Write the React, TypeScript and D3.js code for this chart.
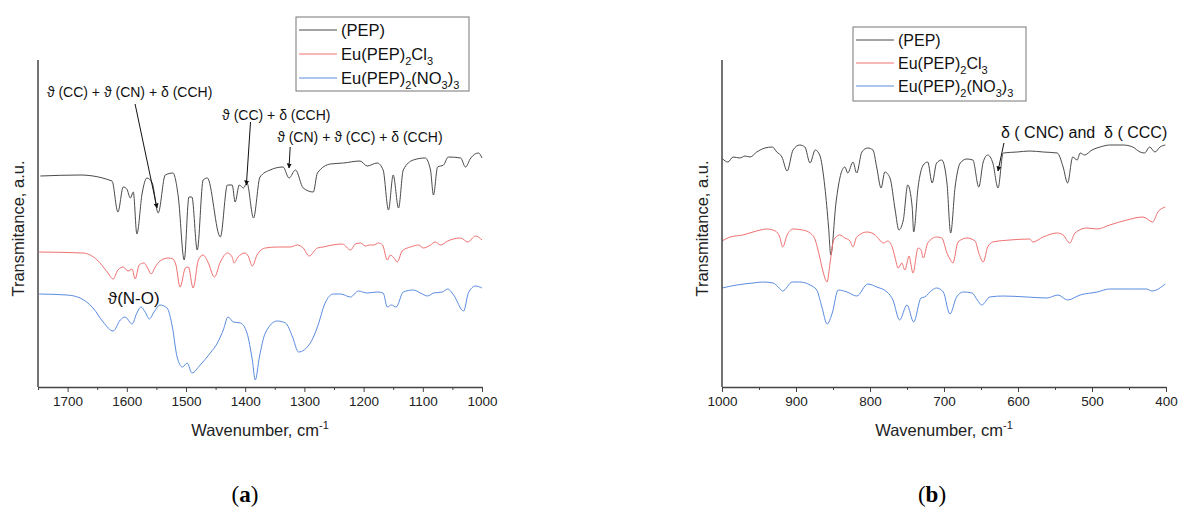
import React, { useEffect, useRef } from 'react';
import * as d3 from 'd3';

type Pt = [number, number];

// panel (a): 1750-1000 cm-1, [wavenumber, transmittance a.u.]
const pepA: Pt[] = [
  [1746, 2.11], [1679, 2.12], [1625, 2.06], [1615, 1.75], [1606, 2.0], [1600, 1.98], [1594, 1.89],
  [1589, 1.95], [1583, 1.53], [1574, 1.94], [1566, 2.09], [1557, 2.04], [1547, 1.74], [1535, 2.12],
  [1522, 2.14], [1513, 1.9], [1503, 1.27], [1495, 1.9], [1490, 1.9], [1481, 1.37], [1471, 2.07],
  [1464, 2.09], [1442, 1.5], [1430, 2.02], [1422, 2.02], [1417, 1.85], [1410, 2.02], [1403, 1.99],
  [1397, 2.04], [1386, 1.69], [1375, 2.1], [1358, 2.17], [1336, 2.2], [1326, 2.09], [1315, 2.17],
  [1302, 1.99], [1285, 1.95], [1278, 2.14], [1256, 2.23], [1234, 2.24], [1206, 2.26], [1194, 2.21],
  [1177, 2.24], [1167, 2.17], [1158, 1.77], [1150, 2.12], [1141, 1.79], [1133, 2.17], [1116, 2.27],
  [1096, 2.29], [1087, 2.17], [1082, 1.92], [1075, 2.2], [1065, 2.22], [1057, 2.3], [1036, 2.29],
  [1028, 2.2], [1019, 2.29], [1006, 2.34], [1000, 2.29],
];
const clA: Pt[] = [
  [1748, 1.35], [1674, 1.34], [1650, 1.27], [1633, 1.15], [1623, 1.08], [1615, 1.17], [1606, 1.2],
  [1598, 1.16], [1591, 1.18], [1586, 1.08], [1579, 1.22], [1571, 1.24], [1564, 1.18], [1559, 1.13],
  [1552, 1.2], [1544, 1.26], [1530, 1.29], [1522, 1.28], [1517, 1.22], [1510, 1.0], [1501, 1.19],
  [1496, 1.2], [1488, 0.99], [1479, 1.27], [1471, 1.32], [1463, 1.25], [1452, 1.1], [1442, 1.25],
  [1430, 1.34], [1422, 1.3], [1419, 1.24], [1412, 1.3], [1400, 1.34], [1395, 1.31], [1388, 1.21],
  [1380, 1.32], [1366, 1.39], [1346, 1.4], [1324, 1.4], [1312, 1.42], [1302, 1.39], [1292, 1.31],
  [1278, 1.39], [1268, 1.4], [1253, 1.42], [1236, 1.43], [1222, 1.37], [1214, 1.43], [1205, 1.44],
  [1197, 1.41], [1190, 1.42], [1183, 1.42], [1175, 1.44], [1168, 1.42], [1160, 1.27], [1155, 1.32],
  [1150, 1.3], [1143, 1.25], [1135, 1.36], [1121, 1.4], [1107, 1.42], [1099, 1.39], [1087, 1.42],
  [1079, 1.45], [1070, 1.42], [1058, 1.46], [1036, 1.49], [1024, 1.45], [1011, 1.51], [1000, 1.47],
];
const no3A: Pt[] = [
  [1748, 0.93], [1701, 0.92], [1679, 0.89], [1657, 0.79], [1640, 0.65], [1623, 0.56], [1611, 0.67],
  [1603, 0.7], [1591, 0.63], [1583, 0.74], [1576, 0.8], [1569, 0.75], [1562, 0.68], [1554, 0.75],
  [1544, 0.82], [1532, 0.79], [1523, 0.6], [1515, 0.3], [1506, 0.2], [1498, 0.24], [1490, 0.14],
  [1476, 0.22], [1459, 0.34], [1447, 0.44], [1437, 0.57], [1429, 0.7], [1420, 0.65], [1408, 0.64],
  [1397, 0.54], [1388, 0.27], [1383, 0.07], [1376, 0.3], [1366, 0.54], [1346, 0.66], [1332, 0.64],
  [1320, 0.5], [1310, 0.35], [1290, 0.44], [1278, 0.6], [1265, 0.84], [1251, 0.93], [1239, 0.93],
  [1222, 0.9], [1209, 0.96], [1194, 0.94], [1177, 0.95], [1167, 0.94], [1160, 0.8], [1153, 0.82],
  [1145, 0.8], [1133, 0.95], [1116, 0.97], [1104, 0.94], [1092, 0.91], [1082, 0.94], [1067, 0.95],
  [1058, 0.98], [1048, 0.92], [1031, 0.76], [1023, 0.94], [1011, 1.01], [1000, 0.99],
];

// panel (b): 1000-400 cm-1
const pepB: Pt[] = [
  [999, 2.28], [992, 2.25], [985, 2.3], [976, 2.29], [969, 2.31], [962, 2.3], [953, 2.35], [942, 2.39],
  [932, 2.4], [926, 2.35], [919, 2.3], [912, 2.16], [904, 2.37], [895, 2.42], [888, 2.4], [881, 2.24],
  [874, 2.37], [868, 2.32], [861, 2.0], [856, 1.6], [853, 1.32], [846, 1.84], [839, 2.14], [834, 2.2],
  [830, 2.14], [823, 2.25], [818, 2.14], [811, 2.35], [803, 2.39], [796, 2.37], [791, 2.2], [785, 1.99],
  [780, 2.15], [773, 2.09], [766, 1.77], [761, 1.57], [755, 1.67], [749, 2.02], [743, 1.8], [741, 1.55],
  [735, 2.0], [728, 2.22], [722, 2.25], [716, 2.04], [710, 2.24], [703, 2.27], [696, 2.04], [691, 1.54],
  [685, 2.0], [678, 2.24], [669, 2.28], [661, 2.27], [653, 2.0], [647, 2.25], [641, 2.32], [634, 2.24],
  [627, 1.99], [620, 2.34], [601, 2.35], [584, 2.36], [566, 2.35], [547, 2.34], [539, 2.2], [533, 2.04],
  [526, 2.3], [520, 2.27], [516, 2.34], [510, 2.32], [500, 2.37], [489, 2.4], [476, 2.42], [458, 2.42],
  [445, 2.4], [435, 2.35], [429, 2.34], [422, 2.4], [415, 2.35], [408, 2.4], [401, 2.42],
];
const clB: Pt[] = [
  [1000, 1.46], [989, 1.5], [972, 1.52], [958, 1.55], [939, 1.58], [928, 1.56], [922, 1.5], [918, 1.4],
  [912, 1.52], [904, 1.58], [891, 1.57], [881, 1.54], [874, 1.47], [868, 1.3], [864, 1.17], [858, 1.05],
  [854, 1.24], [849, 1.47], [841, 1.52], [834, 1.49], [827, 1.46], [823, 1.4], [818, 1.5], [804, 1.55],
  [793, 1.52], [787, 1.47], [782, 1.44], [776, 1.46], [770, 1.4], [766, 1.29], [762, 1.19], [757, 1.24],
  [753, 1.17], [747, 1.31], [745, 1.24], [742, 1.14], [735, 1.39], [731, 1.37], [728, 1.29], [722, 1.44],
  [710, 1.5], [703, 1.49], [696, 1.34], [692, 1.28], [688, 1.24], [681, 1.45], [669, 1.49], [658, 1.46],
  [653, 1.34], [647, 1.25], [641, 1.4], [634, 1.45], [611, 1.47], [584, 1.48], [580, 1.45], [566, 1.5],
  [547, 1.54], [539, 1.52], [530, 1.44], [523, 1.54], [507, 1.59], [493, 1.58], [476, 1.62], [453, 1.67],
  [431, 1.7], [418, 1.65], [411, 1.75], [401, 1.8],
];
const no3B: Pt[] = [
  [1000, 0.99], [980, 1.02], [958, 1.04], [945, 1.05], [931, 1.04], [924, 1.0], [918, 0.96], [905, 1.05],
  [895, 1.05], [881, 1.02], [872, 0.97], [865, 0.8], [858, 0.63], [851, 0.74], [843, 0.97], [831, 0.95],
  [818, 0.91], [803, 1.03], [791, 1.0], [777, 0.95], [769, 0.87], [760, 0.67], [750, 0.82], [741, 0.65],
  [731, 0.89], [726, 0.9], [716, 0.97], [710, 0.99], [701, 0.95], [692, 0.73], [683, 0.9], [674, 0.95],
  [662, 0.94], [655, 0.87], [649, 0.82], [638, 0.9], [620, 0.91], [588, 0.9], [561, 0.89], [546, 0.92],
  [533, 0.87], [516, 0.92], [493, 0.95], [476, 0.98], [449, 0.98], [426, 0.98], [419, 0.96], [401, 1.03],
];

const majorA = [1700, 1600, 1500, 1400, 1300, 1200, 1100, 1000];
const minorA = [1750, 1650, 1550, 1450, 1350, 1250, 1150, 1050];
const majorB = [1000, 900, 800, 700, 600, 500, 400];
const minorB = [950, 850, 750, 650, 550, 450];

const seriesColors = ['#4a4a4a', '#ef7070', '#5a8ce0'];

// [text, peak wavenumber, peak value, tail wavenumber, tail value, text wavenumber, text value, font size]
// peak/tail null -> label without arrow
type Note = [string, number | null, number | null, number | null, number | null, number, number, number];
const notesA: Note[] = [
  ['ϑ (CC) + ϑ (CN) + δ (CCH)', 1549, 1.79, 1586, 2.83, 1735, 2.95, 14],
  ['ϑ (CC) + δ (CCH)', 1398, 2.02, 1391, 2.65, 1439, 2.72, 14],
  ['ϑ (CN) + ϑ (CC) + δ (CCH)', 1326, 2.19, 1324, 2.4, 1346, 2.5, 14],
  ['ϑ(N-O)', null, null, null, null, 1632, 0.89, 17],
];
const notesB: Note[] = [
  ['δ ( CNC) and  δ ( CCC)', 627, 2.16, 619, 2.44, 623, 2.55, 16],
];

const FONT = "Arial, 'Liberation Sans', sans-serif";

type Part = { t: string; sub?: boolean };
const legendLabels: Part[][] = [
  [{ t: '(PEP)' }],
  [{ t: 'Eu(PEP)' }, { t: '2', sub: true }, { t: 'Cl' }, { t: '3', sub: true }],
  [{ t: 'Eu(PEP)' }, { t: '2', sub: true }, { t: '(NO' }, { t: '3', sub: true }, { t: ')' }, { t: '3', sub: true }],
];

const App = () => {
  const svgRef = useRef<SVGSVGElement>(null);

  useEffect(() => {
    const svg = d3.select(svgRef.current);
    svg.selectAll('*').remove();

    svg.append('defs').append('marker')
      .attr('id', 'arrow')
      .attr('viewBox', '0 0 10 10')
      .attr('refX', 9)
      .attr('refY', 5)
      .attr('markerWidth', 5)
      .attr('markerHeight', 7)
      .attr('markerUnits', 'userSpaceOnUse')
      .attr('orient', 'auto')
      .append('path')
      .attr('d', 'M0,0 L10,5 L0,10 Z')
      .attr('fill', '#111');

    const top = 60;
    const bottom = 387;
    const y = d3.scaleLinear().domain([0, 3.27]).range([bottom, top]);

    const panels = [
      {
        domain: [1750, 1000], range: [38, 482], major: majorA, minor: minorA,
        series: [pepA, clA, no3A], notes: notesA, yTitleX: 18,
        legend: { x: 296, y: 17, w: 173, h: 74, rows: [30, 54, 78], font: 16.5 },
        label: 'a', labelX: 245,
      },
      {
        domain: [1000, 400], range: [722, 1166], major: majorB, minor: minorB,
        series: [pepB, clB, no3B], notes: notesB, yTitleX: 702,
        legend: { x: 853, y: 27, w: 173, h: 74, rows: [40, 63, 86], font: 16 },
        label: 'b', labelX: 932,
      },
    ];

    panels.forEach(p => {
      const x = d3.scaleLinear().domain(p.domain).range(p.range);
      const g = svg.append('g');

      // spectra
      const line = d3.line<Pt>()
        .x(d => x(d[0]))
        .y(d => y(d[1]))
        .curve(d3.curveMonotoneX);

      p.series.forEach((s, i) => {
        g.append('path')
          .datum(s)
          .attr('d', line)
          .attr('fill', 'none')
          .attr('stroke', seriesColors[i])
          .attr('stroke-width', 1);
      });

      // axes
      const xAxis = g.append('g')
        .attr('transform', `translate(0,${bottom})`)
        .call(d3.axisBottom(x).tickValues(p.major).tickSize(5).tickSizeOuter(0).tickPadding(4).tickFormat(d3.format('d')));
      xAxis.select('.domain').attr('stroke', '#444').attr('stroke-width', 1.5);
      xAxis.selectAll('.tick line').attr('stroke', '#444');
      xAxis.selectAll('text')
        .style('font-family', FONT)
        .style('font-size', '13.5px')
        .attr('fill', '#222');

      const minorAxis = g.append('g')
        .attr('transform', `translate(0,${bottom})`)
        .call(d3.axisBottom(x).tickValues(p.minor).tickSize(3).tickSizeOuter(0).tickFormat(() => ''));
      minorAxis.select('.domain').remove();
      minorAxis.selectAll('.tick line').attr('stroke', '#444');

      g.append('line')
        .attr('x1', p.range[0]).attr('x2', p.range[0])
        .attr('y1', top).attr('y2', bottom)
        .attr('stroke', '#444')
        .attr('stroke-width', 1.5);

      // axis titles
      const xt = g.append('text')
        .attr('x', (p.range[0] + p.range[1]) / 2)
        .attr('y', 436)
        .attr('text-anchor', 'middle')
        .style('font-family', FONT)
        .style('font-size', '16.5px')
        .attr('fill', '#222');
      xt.append('tspan').text('Wavenumber, cm');
      xt.append('tspan').attr('dy', -7).style('font-size', '11px').text('-1');

      g.append('text')
        .attr('transform', `translate(${p.yTitleX},${(top + bottom) / 2 + 5}) rotate(-90)`)
        .attr('text-anchor', 'middle')
        .attr('dy', '0.35em')
        .style('font-family', FONT)
        .style('font-size', '16.5px')
        .attr('fill', '#222')
        .text('Transmitance, a.u.');

      // annotations
      p.notes.forEach(([txt, pw, pv, tw, tv, xw, xv, fs]) => {
        if (pw !== null && pv !== null && tw !== null && tv !== null) {
          g.append('line')
            .attr('x1', x(tw)).attr('y1', y(tv))
            .attr('x2', x(pw)).attr('y2', y(pv))
            .attr('stroke', '#111')
            .attr('stroke-width', 1)
            .attr('marker-end', 'url(#arrow)');
        }
        g.append('text')
          .attr('x', x(xw))
          .attr('y', y(xv))
          .attr('dy', '0.35em')
          .style('font-family', FONT)
          .style('font-size', `${fs}px`)
          .style('white-space', 'pre')
          .attr('fill', '#111')
          .text(txt);
      });

      // legend
      const L = p.legend;
      const lg = g.append('g');
      lg.append('rect')
        .attr('x', L.x).attr('y', L.y)
        .attr('width', L.w).attr('height', L.h)
        .attr('fill', 'white')
        .attr('stroke', '#777')
        .attr('stroke-width', 1);
      legendLabels.forEach((parts, i) => {
        const ry = L.rows[i];
        lg.append('line')
          .attr('x1', L.x + 3).attr('x2', L.x + 41)
          .attr('y1', ry).attr('y2', ry)
          .attr('stroke', seriesColors[i])
          .attr('stroke-width', 1);
        const t = lg.append('text')
          .attr('x', L.x + 45)
          .attr('y', ry + 6)
          .style('font-family', FONT)
          .style('font-size', `${L.font}px`)
          .attr('fill', '#111');
        let shifted = false;
        parts.forEach(part => {
          const ts = t.append('tspan').text(part.t);
          if (part.sub && !shifted) {
            ts.attr('dy', 5).style('font-size', '11px');
            shifted = true;
          } else if (part.sub) {
            ts.style('font-size', '11px');
          } else if (shifted) {
            ts.attr('dy', -5);
            shifted = false;
          }
        });
      });

      // panel label
      const pl = g.append('text')
        .attr('x', p.labelX)
        .attr('y', 502)
        .attr('text-anchor', 'middle')
        .style('font-family', "'Liberation Serif', 'DejaVu Serif', serif")
        .style('font-size', '23px')
        .attr('fill', '#000');
      pl.append('tspan').text('(');
      pl.append('tspan').attr('font-weight', 'bold').text(p.label);
      pl.append('tspan').text(')');
    });
  }, []);

  return (
    <svg
      ref={svgRef}
      width={1183}
      height={511}
      style={{ position: 'absolute', left: 0, top: 0, background: 'white' }}
    />
  );
};

export default App;
